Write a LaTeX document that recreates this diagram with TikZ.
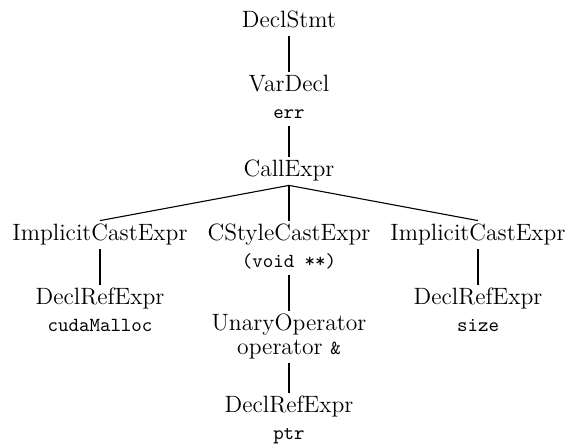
\documentclass[tikz,border=0pt]{standalone}
\usepackage{fontspec}
\begin{document}
\begin{tikzpicture}[x=0.5pt,y=-0.5pt,
  kind/.style={anchor=base,inner xsep=0pt,inner ysep=2pt,
    text height=7.5pt,text depth=2.5pt,font=\fontsize{11.8}{14}\selectfont},
  detail/.style={anchor=base,inner xsep=0pt,inner ysep=2pt,
    text height=7pt,text depth=2pt,font=\fontsize{10}{12}\selectfont\ttfamily},
  edge/.style={draw,line width=0.55pt}]
\useasboundingbox (0,0) rectangle (569,445);

% root and declaration
\node[kind]   (stmt)    at (289,27)  {DeclStmt};
\node[kind]   (var)     at (289,91)  {VarDecl};
\node[detail] (varname) at (289,118) {err};

% the call and its three arguments
\node[kind]   (call)    at (289,176) {CallExpr};
\node[kind]   (icastL)  at (100,240) {ImplicitCastExpr};
\node[kind]   (ccast)   at (289,240) {CStyleCastExpr};
\node[detail] (ccastty) at (289,267) {(void **)};
\node[kind]   (icastR)  at (478,240) {ImplicitCastExpr};

% leaves under the implicit casts
\node[kind]   (refL)    at (100,304) {DeclRefExpr};
\node[detail] (refLname) at (100,331) {cudaMalloc};
\node[kind]   (refR)    at (478,304) {DeclRefExpr};
\node[detail] (refRname) at (478,331) {size};

% address-of chain under the C-style cast
\node[kind]   (unop)    at (289,330) {UnaryOperator};
\node         (unopop)  at (289,354) [kind] {operator {\fontsize{10}{12}\selectfont\ttfamily \&}};
\node[kind]   (refM)    at (289,412) {DeclRefExpr};
\node[detail] (refMname) at (289,439) {ptr};

% tree edges
\path[edge] (stmt.south) -- (var.north);
\path[edge] (varname.south) -- (call.north);
\path[edge] (call.south) -- (icastL.north);
\path[edge] (call.south) -- (ccast.north);
\path[edge] (call.south) -- (icastR.north);
\path[edge] (icastL.south) -- (refL.north);
\path[edge] (icastR.south) -- (refR.north);
\path[edge] (ccastty.south) -- (unop.north);
\path[edge] (unopop.south) -- (refM.north);
\end{tikzpicture}
\end{document}
